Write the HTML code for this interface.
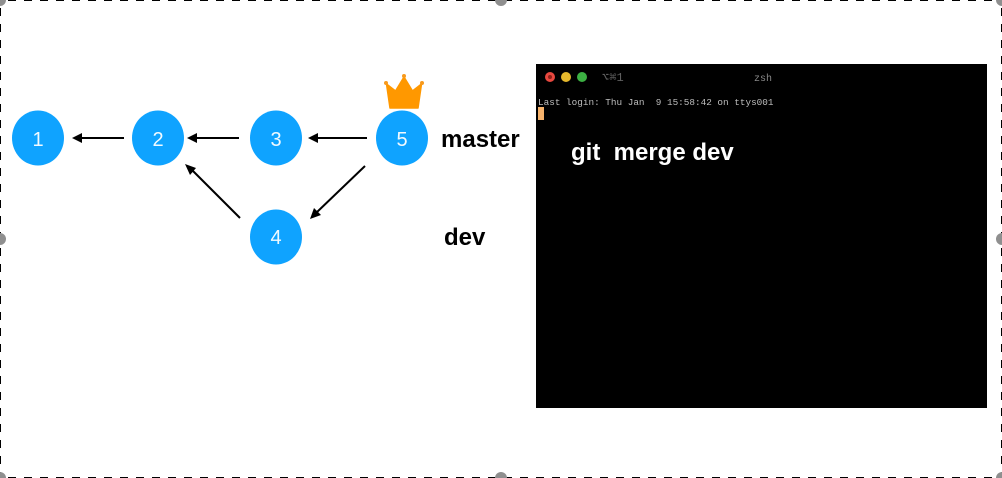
<!DOCTYPE html>
<html>
<head>
<meta charset="utf-8">
<style>
html,body{margin:0;padding:0;background:#fff;}
body{width:1002px;height:478px;overflow:hidden;position:relative;}
svg{position:absolute;left:0;top:0;}
</style>
</head>
<body>
<svg width="1002" height="478" viewBox="0 0 1002 478" xmlns="http://www.w3.org/2000/svg">
  <rect x="0" y="0" width="1002" height="478" fill="#fff"/>
  <!-- dashed selection border -->
  <g stroke="#000" stroke-width="1" stroke-dasharray="8 8" fill="none">
    <line x1="8" y1="0.5" x2="1002" y2="0.5"/>
    <line x1="8" y1="477.5" x2="1002" y2="477.5"/>
    <line x1="0.5" y1="8" x2="0.5" y2="478"/>
    <line x1="1001.5" y1="8" x2="1001.5" y2="478"/>
  </g>
  <!-- handles -->
  <g fill="#8f8f8f">
    <circle cx="0" cy="0" r="6"/>
    <circle cx="501" cy="0" r="6"/>
    <circle cx="1002" cy="0" r="6"/>
    <circle cx="0" cy="239" r="6"/>
    <circle cx="1002" cy="239" r="6"/>
    <circle cx="0" cy="478" r="6"/>
    <circle cx="501" cy="478" r="6"/>
    <circle cx="1002" cy="478" r="6"/>
  </g>
  <!-- nodes -->
  <g fill="#0fa3ff">
    <ellipse cx="38" cy="138" rx="26" ry="27.5"/>
    <ellipse cx="158" cy="138" rx="26" ry="27.5"/>
    <ellipse cx="276" cy="138" rx="26" ry="27.5"/>
    <ellipse cx="276" cy="237" rx="26" ry="27.5"/>
    <ellipse cx="402" cy="138" rx="26" ry="27.5"/>
  </g>
  <g fill="#f2faff" font-family="'Liberation Sans',sans-serif" font-size="20" text-anchor="middle">
    <text x="38" y="146">1</text>
    <text x="158" y="146">2</text>
    <text x="276" y="146">3</text>
    <text x="276" y="244">4</text>
    <text x="402" y="146">5</text>
  </g>
  <!-- connectors -->
  <g stroke="#000" stroke-width="2" fill="none">
    <line x1="124" y1="138" x2="80" y2="138"/>
    <line x1="239" y1="138" x2="195" y2="138"/>
    <line x1="367" y1="138" x2="316" y2="138"/>
    <line x1="240" y1="218" x2="192" y2="170"/>
    <line x1="365" y1="166" x2="316" y2="213"/>
  </g>
  <g fill="#000">
    <polygon points="72,138 82,133 82,143"/>
    <polygon points="187,138 197,133 197,143"/>
    <polygon points="308,138 318,133 318,143"/>
    <polygon points="185,164 196,168 190,175"/>
    <polygon points="310,219 314,208 321,215"/>
  </g>
  <!-- crown -->
  <path d="M390,108 L386.5,84 L395.5,91 L404,77 L412.5,91 L421.5,84 L418,108 Z" fill="#ff9800" stroke="#ff9800" stroke-width="1.5" stroke-linejoin="round"/>
  <g fill="#f79a1e">
    <circle cx="386" cy="83" r="2"/>
    <circle cx="404" cy="76" r="2"/>
    <circle cx="422" cy="83" r="2"/>
  </g>
  <!-- labels -->
  <text x="441" y="147" fill="#000" font-family="'Liberation Sans',sans-serif" font-size="24" font-weight="700">master</text>
  <text x="444" y="245" fill="#000" font-family="'Liberation Sans',sans-serif" font-size="24" font-weight="700">dev</text>
  <!-- terminal -->
  <rect x="536" y="64" width="451" height="344" fill="#000"/>
  <circle cx="550" cy="77" r="5" fill="#e8483f"/>
  <circle cx="550" cy="77" r="2" fill="#8f2018"/>
  <circle cx="566" cy="77" r="5" fill="#e6b82c"/>
  <circle cx="582" cy="77" r="5" fill="#3cb043"/>
  <text x="602" y="81" fill="#5f5f5f" font-family="'Liberation Mono',monospace" font-size="12">⌥⌘1</text>
  <text x="754" y="81" fill="#8a8a8a" font-family="'Liberation Mono',monospace" font-size="10">zsh</text>
  <text x="538" y="105" fill="#bdbdbd" font-family="'Liberation Mono',monospace" font-size="9.35" xml:space="preserve">Last login: Thu Jan  9 15:58:42 on ttys001</text>
  <rect x="538" y="107" width="6" height="13" fill="#f6b26b"/>
  <text x="571" y="160" fill="#fff" font-family="'Liberation Sans',sans-serif" font-size="24" font-weight="700" xml:space="preserve">git  merge dev</text>
</svg>
</body>
</html>
